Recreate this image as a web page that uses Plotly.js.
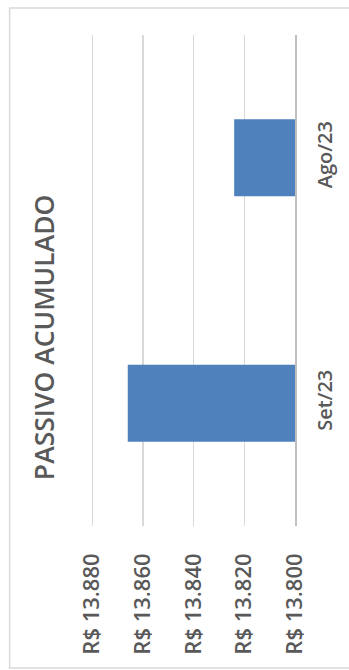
<!DOCTYPE html>
<html>
<head>
<meta charset="utf-8">
<script src="https://cdn.plot.ly/plotly-3.0.1.min.js"></script>
<style>html,body{margin:0;padding:0;background:#fff;}#chart{width:349px;height:670px;}</style>
</head>
<body>
<div id="chart"></div>
<script>
const categories = ['Ago/23', 'Set/23'];
const values = [13824, 13866];
const tickValues = [13880, 13860, 13840, 13820, 13800];
const tickLabels = ['R$ 13.880', 'R$ 13.860', 'R$ 13.840', 'R$ 13.820', 'R$ 13.800'];
const chartTitle = 'PASSIVO ACUMULADO';

const font = 'Open Sans, Noto Sans, sans-serif';
const trace = {
  type: 'bar',
  orientation: 'h',
  y: categories,
  x: values,
  width: 0.314,
  marker: {color: '#4F81BD'},
  hoverinfo: 'none'
};
const layout = {
  width: 349, height: 670,
  margin: {l: 91, r: 54, t: 35, b: 144},
  paper_bgcolor: '#fff', plot_bgcolor: '#fff',
  showlegend: false,
  xaxis: {
    range: [13880.5, 13800],
    tickvals: tickValues, ticktext: tickLabels,
    tickangle: -90,
    showgrid: true, gridcolor: '#D9D9D9', gridwidth: 1.5,
    zeroline: false, showline: false,
    ticks: '', ticklabelstandoff: 22,
    tickfont: {family: font, size: 22, color: '#595959', weight: 600},
    fixedrange: true
  },
  yaxis: {
    type: 'category',
    categoryorder: 'array', categoryarray: categories,
    autorange: 'reversed',
    side: 'right',
    tickangle: -90,
    showgrid: false, zeroline: false,
    showline: true, linecolor: '#BFBFBF', linewidth: 1.5,
    ticks: '', ticklabelstandoff: 11,
    tickfont: {family: font, size: 20, color: '#595959', weight: 600},
    fixedrange: true
  },
  annotations: [{
    text: chartTitle, textangle: -90,
    xref: 'paper', yref: 'paper',
    x: -0.227, y: 0.384, xanchor: 'center', yanchor: 'middle',
    showarrow: false,
    font: {family: font, size: 26.5, color: '#595959', weight: 600}
  }],
  shapes: [{
    type: 'rect', xref: 'paper', yref: 'paper',
    x0: -0.399, x1: 1.4, y0: -0.289, y1: 1.055,
    line: {color: '#D9D9D9', width: 1.5}, layer: 'below'
  }]
};
Plotly.newPlot('chart', [trace], layout, {staticPlot: true, displayModeBar: false});
</script>
</body>
</html>
